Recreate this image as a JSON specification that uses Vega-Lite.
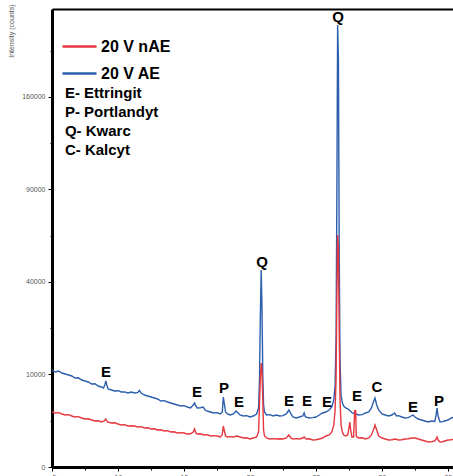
{
  "$schema": "https://vega.github.io/schema/vega-lite/v6.json",
  "autosize": {"type": "none"},
  "padding": {"left": 52, "top": 9, "right": 0, "bottom": 9},
  "width": 401,
  "height": 458,
  "background": "white",
  "config": {
    "view": {"stroke": null},
    "axis": {"labelFont": "Liberation Sans", "labelFontSize": 7, "labelColor": "#555", "tickColor": "black", "tickWidth": 1, "domain": true, "domainColor": "black", "domainWidth": 3, "grid": false, "labelPadding": 2, "zindex": 1},
    "text": {"font": "Liberation Sans", "fontWeight": "bold", "fontSize": 15, "color": "black"}
  },
  "datasets": {
    "ae": [
      {"t":5,"i":10996},{"t":5.25,"i":10547},{"t":5.5,"i":10771},{"t":5.75,"i":10327},{"t":6,"i":10108},{"t":6.25,"i":9892},{"t":6.5,"i":9678},{"t":6.75,"i":9257},{"t":7,"i":9300},{"t":7.25,"i":8846},{"t":7.5,"i":8644},{"t":7.75,"i":8444},{"t":8,"i":8051},{"t":8.25,"i":8100},{"t":8.5,"i":7668},{"t":8.75,"i":7480},{"t":8.9,"i":7294},{"t":9,"i":7858},{"t":9.08,"i":8644},{"t":9.15,"i":7858},{"t":9.25,"i":7110},{"t":9.5,"i":6929},{"t":9.75,"i":6750},{"t":10,"i":6800},{"t":10.25,"i":6574},{"t":10.5,"i":6600},{"t":10.75,"i":6400},{"t":11,"i":6574},{"t":11.25,"i":6400},{"t":11.5,"i":6500},{"t":11.62,"i":6850},{"t":11.75,"i":6400},{"t":12,"i":6058},{"t":12.25,"i":5891},{"t":12.5,"i":5727},{"t":12.75,"i":5564},{"t":13,"i":5404},{"t":13.25,"i":5091},{"t":13.5,"i":5150},{"t":13.75,"i":4938},{"t":14,"i":4787},{"t":14.25,"i":4638},{"t":14.5,"i":4493},{"t":14.75,"i":4349},{"t":15,"i":4400},{"t":15.25,"i":4207},{"t":15.5,"i":4068},{"t":15.7,"i":4493},{"t":15.8,"i":4787},{"t":15.9,"i":4349},{"t":16,"i":4068},{"t":16.25,"i":4100},{"t":16.45,"i":4207},{"t":16.6,"i":3797},{"t":16.75,"i":3665},{"t":17,"i":3535},{"t":17.25,"i":3408},{"t":17.5,"i":3450},{"t":17.75,"i":3283},{"t":17.9,"i":3535},{"t":17.98,"i":5727},{"t":18.06,"i":4638},{"t":18.15,"i":3535},{"t":18.3,"i":3283},{"t":18.5,"i":3160},{"t":18.75,"i":3283},{"t":18.95,"i":3665},{"t":19.1,"i":3408},{"t":19.25,"i":3160},{"t":19.5,"i":3040},{"t":19.75,"i":3080},{"t":20,"i":2922},{"t":20.25,"i":3040},{"t":20.5,"i":3283},{"t":20.65,"i":4068},{"t":20.72,"i":8846},{"t":20.78,"i":25254},{"t":20.85,"i":45356},{"t":20.91,"i":28807},{"t":20.97,"i":9892},{"t":21.03,"i":4493},{"t":21.1,"i":3535},{"t":21.25,"i":3160},{"t":21.5,"i":3200},{"t":21.75,"i":3040},{"t":22,"i":3160},{"t":22.25,"i":3040},{"t":22.5,"i":3080},{"t":22.75,"i":3283},{"t":22.95,"i":3797},{"t":23.1,"i":3283},{"t":23.25,"i":2922},{"t":23.5,"i":2806},{"t":23.75,"i":2922},{"t":24,"i":3040},{"t":24.1,"i":3408},{"t":24.2,"i":2922},{"t":24.5,"i":2806},{"t":24.75,"i":2850},{"t":25,"i":2922},{"t":25.25,"i":3160},{"t":25.5,"i":3408},{"t":25.75,"i":3535},{"t":26,"i":3797},{"t":26.2,"i":4207},{"t":26.35,"i":5246},{"t":26.45,"i":7858},{"t":26.52,"i":18850},{"t":26.58,"i":83317},{"t":26.64,"i":228318},{"t":26.7,"i":193588},{"t":26.76,"i":55033},{"t":26.82,"i":13380},{"t":26.9,"i":6058},{"t":27,"i":4787},{"t":27.1,"i":4349},{"t":27.25,"i":4068},{"t":27.45,"i":3931},{"t":27.6,"i":3665},{"t":27.75,"i":3408},{"t":28,"i":3283},{"t":28.25,"i":3160},{"t":28.5,"i":3200},{"t":28.75,"i":3408},{"t":29,"i":3535},{"t":29.2,"i":4068},{"t":29.35,"i":4938},{"t":29.47,"i":5564},{"t":29.6,"i":4493},{"t":29.75,"i":3797},{"t":30,"i":3283},{"t":30.25,"i":3160},{"t":30.5,"i":3040},{"t":30.75,"i":3160},{"t":30.95,"i":3408},{"t":31.1,"i":3040},{"t":31.25,"i":3080},{"t":31.5,"i":2922},{"t":31.75,"i":2806},{"t":32,"i":2850},{"t":32.2,"i":3040},{"t":32.35,"i":3160},{"t":32.5,"i":2922},{"t":32.75,"i":2693},{"t":33,"i":2582},{"t":33.25,"i":2473},{"t":33.5,"i":2367},{"t":33.75,"i":2473},{"t":34,"i":2430},{"t":34.1,"i":3160},{"t":34.17,"i":4068},{"t":34.25,"i":3040},{"t":34.4,"i":2367},{"t":34.6,"i":2400},{"t":34.75,"i":2473},{"t":35,"i":2582},{"t":35.25,"i":2806},{"t":35.5,"i":2922},{"t":35.6,"i":2950}
    ],
    "nae": [
      {"t":5,"i":3535},{"t":5.25,"i":3408},{"t":5.5,"i":3450},{"t":5.75,"i":3283},{"t":6,"i":3160},{"t":6.25,"i":3200},{"t":6.5,"i":3040},{"t":6.75,"i":2922},{"t":7,"i":2960},{"t":7.25,"i":2806},{"t":7.5,"i":2693},{"t":7.75,"i":2720},{"t":8,"i":2582},{"t":8.25,"i":2473},{"t":8.5,"i":2500},{"t":8.75,"i":2367},{"t":8.95,"i":2473},{"t":9.08,"i":2693},{"t":9.2,"i":2367},{"t":9.5,"i":2263},{"t":9.75,"i":2290},{"t":10,"i":2161},{"t":10.25,"i":2062},{"t":10.5,"i":2090},{"t":10.75,"i":1965},{"t":11,"i":1990},{"t":11.25,"i":1965},{"t":11.5,"i":1870},{"t":11.75,"i":1900},{"t":12,"i":1778},{"t":12.25,"i":1800},{"t":12.5,"i":1688},{"t":12.75,"i":1710},{"t":13,"i":1600},{"t":13.25,"i":1620},{"t":13.5,"i":1515},{"t":13.75,"i":1540},{"t":14,"i":1432},{"t":14.25,"i":1450},{"t":14.5,"i":1351},{"t":14.75,"i":1380},{"t":15,"i":1351},{"t":15.25,"i":1273},{"t":15.5,"i":1290},{"t":15.7,"i":1432},{"t":15.8,"i":1688},{"t":15.9,"i":1351},{"t":16,"i":1273},{"t":16.25,"i":1290},{"t":16.5,"i":1197},{"t":16.75,"i":1220},{"t":17,"i":1123},{"t":17.25,"i":1150},{"t":17.5,"i":1123},{"t":17.75,"i":1052},{"t":17.9,"i":1197},{"t":17.98,"i":1965},{"t":18.06,"i":1515},{"t":18.15,"i":1123},{"t":18.3,"i":1052},{"t":18.5,"i":1080},{"t":18.75,"i":1052},{"t":19,"i":1123},{"t":19.25,"i":1052},{"t":19.5,"i":983},{"t":19.75,"i":1000},{"t":20,"i":916},{"t":20.25,"i":983},{"t":20.5,"i":1052},{"t":20.65,"i":1432},{"t":20.72,"i":4493},{"t":20.78,"i":8846},{"t":20.85,"i":12641},{"t":20.91,"i":10547},{"t":20.97,"i":5246},{"t":21.03,"i":1600},{"t":21.1,"i":1123},{"t":21.25,"i":983},{"t":21.5,"i":916},{"t":21.75,"i":940},{"t":22,"i":916},{"t":22.25,"i":930},{"t":22.5,"i":916},{"t":22.75,"i":983},{"t":22.95,"i":1197},{"t":23.1,"i":983},{"t":23.25,"i":916},{"t":23.5,"i":940},{"t":23.75,"i":916},{"t":24,"i":983},{"t":24.1,"i":1052},{"t":24.25,"i":916},{"t":24.5,"i":930},{"t":24.75,"i":852},{"t":25,"i":870},{"t":25.25,"i":916},{"t":25.5,"i":983},{"t":25.75,"i":1123},{"t":26,"i":1197},{"t":26.2,"i":1432},{"t":26.35,"i":2062},{"t":26.45,"i":3797},{"t":26.52,"i":8846},{"t":26.58,"i":32594},{"t":26.64,"i":62904},{"t":26.7,"i":55033},{"t":26.76,"i":21935},{"t":26.82,"i":5246},{"t":26.9,"i":2062},{"t":27,"i":1432},{"t":27.1,"i":1197},{"t":27.25,"i":1123},{"t":27.4,"i":1197},{"t":27.5,"i":1778},{"t":27.56,"i":2367},{"t":27.63,"i":1600},{"t":27.72,"i":1052},{"t":27.85,"i":1052},{"t":27.93,"i":3797},{"t":27.97,"i":2806},{"t":28.01,"i":3797},{"t":28.05,"i":1123},{"t":28.1,"i":1052},{"t":28.25,"i":983},{"t":28.5,"i":1000},{"t":28.75,"i":916},{"t":29,"i":983},{"t":29.2,"i":1197},{"t":29.35,"i":1600},{"t":29.47,"i":2062},{"t":29.6,"i":1600},{"t":29.75,"i":1123},{"t":30,"i":983},{"t":30.25,"i":916},{"t":30.5,"i":852},{"t":30.75,"i":870},{"t":31,"i":916},{"t":31.25,"i":852},{"t":31.5,"i":870},{"t":31.75,"i":916},{"t":32,"i":930},{"t":32.25,"i":983},{"t":32.5,"i":983},{"t":32.75,"i":916},{"t":33,"i":852},{"t":33.25,"i":790},{"t":33.5,"i":730},{"t":33.75,"i":745},{"t":34,"i":790},{"t":34.1,"i":916},{"t":34.17,"i":1052},{"t":34.25,"i":852},{"t":34.4,"i":730},{"t":34.6,"i":745},{"t":34.75,"i":790},{"t":35,"i":852},{"t":35.25,"i":870},{"t":35.5,"i":916},{"t":35.6,"i":930}
    ],
    "peaks": [
      {"t":9.09,"i":10547,"label":"E"},{"t":15.98,"i":6574,"label":"E"},{"t":18.03,"i":7294,"label":"P"},{"t":19.17,"i":4938,"label":"E"},{"t":20.91,"i":49115,"label":"Q"},{"t":22.95,"i":5091,"label":"E"},{"t":24.32,"i":5091,"label":"E"},{"t":25.83,"i":4938,"label":"E"},{"t":26.67,"i":236662,"label":"Q"},{"t":28.11,"i":5891,"label":"E"},{"t":29.62,"i":7480,"label":"C"},{"t":32.35,"i":4207,"label":"E"},{"t":34.32,"i":5091,"label":"P"}
    ],
    "key": [
      {"t":5.98,"i":163474,"label":"E- Ettringit"},{"t":5.98,"i":147286,"label":"P- Portlandyt"},{"t":5.98,"i":131942,"label":"Q- Kwarc"},{"t":5.98,"i":117442,"label":"C- Kalcyt"}
    ]
  },
  "resolve": {"axis": {"x": "independent"}},
  "layer": [
    {
      "data": {"name": "ae"},
      "mark": {"type": "line", "strokeWidth": 1.4, "clip": true},
      "encoding": {
        "x": {"field": "t", "type": "quantitative", "scale": {"domain": [5, 35.38], "nice": false, "zero": false},
          "axis": {"values": [5,7.5,10,12.5,15,17.5,20,22.5,25,27.5,30,32.5,35], "labelExpr": "datum.value % 5 == 0 ? datum.label : ''", "title": null, "orient": "bottom",
            "tickSize": {"condition": {"test": "datum.value % 5 == 0", "value": 4}, "value": 3}}},
        "y": {"field": "i", "type": "quantitative", "scale": {"type": "sqrt", "domain": [0, 245150], "nice": false},
          "axis": {"values": [0,2500,10000,22500,40000,62500,90000,122500,160000,202500], "format": "d",
            "labelExpr": "indexof([0,10000,40000,90000,160000], datum.value) >= 0 ? datum.label : ''",
            "tickSize": {"condition": {"test": "indexof([0,10000,40000,90000,160000], datum.value) >= 0", "value": 4}, "value": 2},
            "domain": true, "domainColor": "black", "domainWidth": 3, "tickColor": "black", "labelColor": "#555", "labelPadding": 3,
            "title": "Intensity (counts)", "titleFont": "Liberation Sans", "titleFontSize": 7, "titleFontWeight": "normal", "titleColor": "#555",
            "titleAnchor": "end", "titleX": -38, "titleY": -5}},
        "color": {"datum": "20 V AE", "type": "nominal",
          "scale": {"domain": ["20 V nAE", "20 V AE"], "range": ["#e8363f", "#2b5fad"]},
          "legend": {"orient": "none", "legendX": 9, "legendY": 19, "title": null, "symbolType": "stroke", "symbolSize": 1156, "symbolStrokeWidth": 2.5,
            "labelFontSize": 16, "labelFontWeight": "bold", "labelFont": "Liberation Sans", "labelColor": "black", "rowPadding": 0, "labelOffset": 3, "padding": 0}}
      }
    },
    {
      "data": {"name": "nae"},
      "mark": {"type": "line", "strokeWidth": 1.4, "clip": true},
      "encoding": {
        "x": {"field": "t", "type": "quantitative", "axis": {"orient": "top", "ticks": false, "labels": false, "title": null, "domainColor": "black", "domainWidth": 2}},
        "y": {"field": "i", "type": "quantitative"},
        "color": {"datum": "20 V nAE", "type": "nominal"}
      }
    },
    {
      "data": {"name": "peaks"},
      "mark": {"type": "text", "align": "center", "baseline": "middle"},
      "encoding": {
        "x": {"field": "t", "type": "quantitative", "axis": null},
        "y": {"field": "i", "type": "quantitative"},
        "text": {"field": "label"}
      }
    },
    {
      "data": {"name": "key"},
      "mark": {"type": "text", "align": "left", "baseline": "middle"},
      "encoding": {
        "x": {"field": "t", "type": "quantitative", "axis": null},
        "y": {"field": "i", "type": "quantitative"},
        "text": {"field": "label"}
      }
    }
  ]
}
